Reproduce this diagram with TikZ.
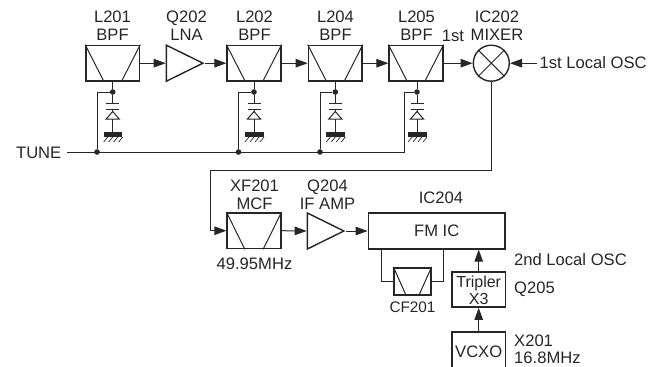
\documentclass[tikz,border=0pt]{standalone}
\usepackage{fontspec}
\setmainfont{Liberation Sans}
\usetikzlibrary{shapes.geometric,arrows.meta}
\definecolor{ink}{HTML}{262626}
\tikzset{
  x=1pt,y=-1pt,
  every node/.style={text=ink,font=\fontsize{16.6}{18}\selectfont,inner sep=0pt},
  wire/.style={draw=ink,line width=1pt},
  sig/.style={wire,-{Triangle[length=12pt,width=8.5pt]}},
  box/.style={draw=ink,line width=1.7pt,rectangle,minimum width=53.5pt,minimum height=35.5pt},
  amp/.style={draw=ink,line width=1.4pt,isosceles triangle,isosceles triangle stretches,shape border rotate=0,minimum width=36pt,minimum height=36.5pt,anchor=lower side},
  dot/.style={circle,fill=ink,minimum size=5.6pt},
  diag/.style={draw=ink,line width=1pt},
  lab/.style={align=center}
}
\newcommand{\filt}[2]{%
  \draw[diag] (#1.north west) -- ([xshift=#2]#1.south west);
  \draw[diag] (#1.north east) -- ([xshift=-#2]#1.south east);}
\newcommand{\varactor}[2]{%
  \coordinate (#1p1) at (#2,103.2);
  \coordinate (#1p2) at (#2,109.5);
  \coordinate (#1g) at (#2,132.5);
  \draw[wire] (#1d) -- (#1p1);
  \draw[wire] ([xshift=-6.5pt]#1p1) -- ([xshift=6.5pt]#1p1);
  \draw[wire] ([xshift=-6.5pt]#1p2) -- ([xshift=6.5pt]#1p2);
  \draw[wire] (#1p2) -- (#2,111.5);
  \draw[wire] (#2,111.5) -- ++(-6.5,7.5) -- ++(13,0) -- cycle;
  \draw[wire] (#2,119) -- (#1g);
  \fill[ink] (#2-9,132) rectangle (#2+9.5,137);
  \foreach \k in {0,1,2,3}{\draw[ink,line width=.7pt] (#2-5+\k*5,137) -- ++(-4,5);}
}
\begin{document}
\begin{tikzpicture}
\useasboundingbox (0,0) rectangle (657,367);
% top row
\node[box] (l201) at (112.7,63.2) {};
\node[amp] (lna) at (165.7,63.2) {};
\node[box] (l202) at (254,63.2) {};
\node[box] (l204) at (335.3,63.2) {};
\node[box] (l205) at (416,63.2) {};
\node[draw=ink,line width=1.4pt,circle,minimum size=36pt] (mix) at (491.3,63.2) {};
\draw[diag] (mix.45) -- (mix.225);
\draw[diag] (mix.135) -- (mix.315);
\filt{l201}{19pt}\filt{l202}{19pt}\filt{l204}{19pt}\filt{l205}{19pt}
\node[lab] (tl201) at (112.5,26) {L201\\BPF};
\node[lab] (tq202) at (186.5,26) {Q202\\LNA};
\node[lab] (tl202) at (254.5,26) {L202\\BPF};
\node[lab] (tl204) at (335.5,26) {L204\\BPF};
\node[lab] (tl205) at (416.5,26) {L205\\BPF};
\node (tfirst) at (453,36) {1st};
\node[lab] (tmix) at (497,26) {IC202\\MIXER};
\node[anchor=west] (tosc) at (539.5,62.5) {1st Local OSC};
\coordinate (oscend) at (537,63.2);
\draw[sig] (l201.east) -- (lna.west);
\draw[sig] (lna.apex) -- (l202.west);
\draw[sig] (l202.east) -- (l204.west);
\draw[sig] (l204.east) -- (l205.west);
\draw[sig] (l205.east) -- (mix.west);
\draw[sig] (oscend) -- (mix.east);
% varactors
\foreach \n/\x in {a/112.7,b/254,c/335.3,d/417}{
  \node[dot] (\n d) at (\x,92) {};
}
\draw[wire] (l201.south) -- (ad);
\draw[wire] (l202.south) -- (bd);
\draw[wire] (l204.south) -- (cd);
\draw[wire] (l205.south-|dd) -- (dd);
\varactor{a}{112.7}
\varactor{b}{254}
\varactor{c}{335.3}
\varactor{d}{417}
% tune
\node[anchor=east] (tune) at (61.5,153) {TUNE};
\coordinate (tunestart) at (67,152);
\node[dot] (ja) at (97,152) {};
\node[dot] (jb) at (238.5,152) {};
\node[dot] (jc) at (320,152) {};
\coordinate (jd) at (404,152);
\draw[wire] (tunestart) -- (jd) |- (dd);
\draw[wire] (ja) |- (ad);
\draw[wire] (jb) |- (bd);
\draw[wire] (jc) |- (cd);
% lower row
\node[box] (xf) at (254,230.7) {};
\node[amp] (ifa) at (306.7,231) {};
\node[box,minimum width=136.5pt] (fm) at (436.7,231) {FM IC};
\node[box,minimum width=36.5pt,minimum height=27.5pt] (cf) at (412.5,281.5) {};
\filt{xf}{18.5pt}\filt{cf}{13pt}
\node[box,minimum height=35pt] (trip) at (478.7,289.5) {};
\node[lab,font=\fontsize{16}{16.5}\selectfont] (ttrip) at (478.7,290.5) {Tripler\\X3};
\node[box,minimum height=39pt] (vcxo) at (478.7,351.8) {VCXO};
\node[lab] (txf) at (254.5,195) {XF201\\MCF};
\node[lab] (tq204) at (327.5,195) {Q204\\IF AMP};
\node (tic) at (441,198) {IC204};
\node (t49) at (254.5,264) {49.95MHz};
\node[font=\fontsize{15.3}{16}\selectfont] (tcf) at (412.5,307) {CF201};
\node[anchor=west] (t2nd) at (514,260) {2nd Local OSC};
\node[anchor=west] (tq205) at (514,289) {Q205};
\node[anchor=west,lab,align=left,font=\fontsize{16.6}{17.5}\selectfont] (tx) at (514,349.5) {X201\\16.8MHz};
\coordinate (mb) at (491.3,170);
\coordinate (xl) at (210,170);
\draw[wire] (mix.south) -- (mb) -- (xl);
\draw[sig] (xl) |- (xf.west);
\draw[sig] (xf.east) -- (ifa.west);
\draw[sig] (ifa.apex) -- (fm.west);
\draw[wire] (fm.south-|381.7,0) |- (cf.west);
\draw[wire] (fm.south-|443,0) |- (cf.east);
\draw[sig] (trip.north) -- (trip.north|-fm.south);
\draw[sig] (vcxo.north) -- (trip.south);
\end{tikzpicture}
\end{document}
